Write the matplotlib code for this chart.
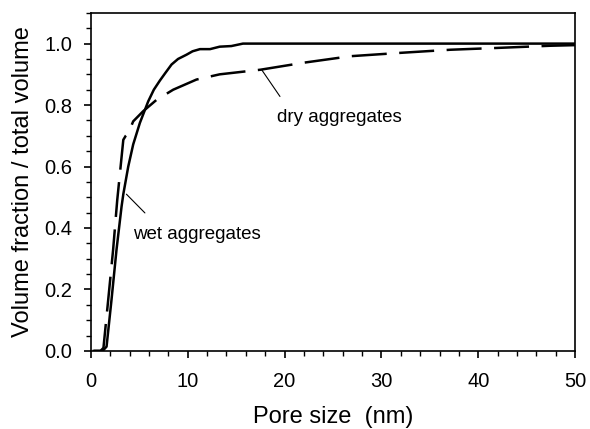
import matplotlib
matplotlib.use("Agg")
import matplotlib.pyplot as plt
import numpy as np
from matplotlib.ticker import MultipleLocator

# Pore size (nm) and cumulative volume fraction
wet_x = [0.3, 1.0, 1.3, 1.62, 2.13, 2.65, 3.17, 3.35, 3.86, 4.37, 5.06, 5.92, 6.5, 7.13,
         7.7, 8.33, 9.0, 9.88, 10.5, 11.26, 12.3, 13.3, 14.5, 15.7, 20, 30, 40, 50]
wet_y = [0.0, 0.0, 0.003, 0.014, 0.166, 0.33, 0.47, 0.51, 0.60, 0.672, 0.742, 0.812, 0.85, 0.88,
         0.905, 0.932, 0.95, 0.964, 0.975, 0.982, 0.982, 0.99, 0.992, 1.0, 1.0, 1.0, 1.0, 1.0]

dry_x = [0.3, 1.0, 1.3, 1.79, 2.3, 2.72, 3.35, 3.6, 3.87, 4.37, 5.4, 6.78, 8.5,
         10.9, 13.3, 17.5, 22, 26.8, 32, 37.1, 42, 47.4, 50]
dry_y = [0.0, 0.0, 0.01, 0.166, 0.33, 0.49, 0.687, 0.70, 0.709, 0.747, 0.78, 0.817, 0.85,
         0.883, 0.90, 0.915, 0.938, 0.959, 0.970, 0.98, 0.986, 0.993, 0.995]

plt.rcParams['font.family'] = ['Liberation Sans', 'DejaVu Sans']

fig = plt.figure(figsize=(5.9, 4.29), dpi=100)
ax = fig.add_axes([0.154, 0.182, 0.821, 0.788])

ax.plot(wet_x, wet_y, color='black', lw=1.8)
ax.plot(dry_x, dry_y, color='black', lw=1.8, dashes=(14, 5))

ax.set_xlim(0, 50)
ax.set_ylim(0, 1.1)
ax.xaxis.set_major_locator(MultipleLocator(10))
ax.xaxis.set_minor_locator(MultipleLocator(2))
ax.yaxis.set_major_locator(MultipleLocator(0.2))
ax.yaxis.set_minor_locator(MultipleLocator(0.05))
ax.yaxis.set_major_formatter(plt.FormatStrFormatter('%.1f'))
ax.tick_params(which='both', direction='out', top=False, right=False, labelsize=14.5)
ax.tick_params(which='major', length=5, width=1.2, pad=8.5)
ax.tick_params(which='minor', length=3.5, width=1.0)
ax.tick_params(axis='x', which='major', pad=10)
for s in ax.spines.values():
    s.set_linewidth(1.2)

ax.set_xlabel('Pore size  (nm)', fontsize=17, labelpad=11)
ax.set_ylabel('Volume fraction / total volume', fontsize=17, labelpad=7)

# leader lines and labels
ax.annotate('', xy=(3.67, 0.51), xytext=(5.58, 0.449),
            arrowprops=dict(arrowstyle='-', color='black', lw=0.8,
                            shrinkA=0, shrinkB=0))
ax.text(4.34, 0.378, 'wet aggregates', fontsize=13.5, va='center', ha='left')
ax.annotate('', xy=(17.63, 0.915), xytext=(19.52, 0.828),
            arrowprops=dict(arrowstyle='-', color='black', lw=0.8,
                            shrinkA=0, shrinkB=0))
ax.text(19.2, 0.758, 'dry aggregates', fontsize=13.5, va='center', ha='left')

fig.savefig('out.png', dpi=100)
